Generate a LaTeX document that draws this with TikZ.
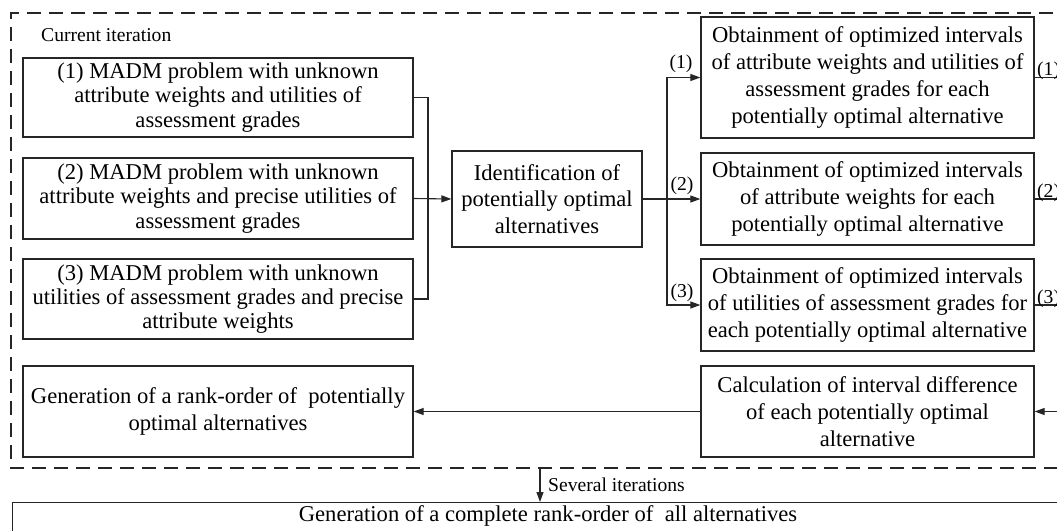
\documentclass[tikz,border=0pt]{standalone}
\usepackage{fontspec}
\setmainfont{Liberation Serif}
\usetikzlibrary{arrows.meta}
\tikzset{
  box/.style={draw=black!85, line width=1.3pt, rectangle, inner sep=0pt, align=center,
    font=\fontsize{22.6}{26.8}\selectfont},
  lbox/.style={box, font=\fontsize{22.6}{24.2}\selectfont},
  conn/.style={draw=black!85, line width=1.1pt},
  arr/.style={conn, -{Triangle[length=10pt,width=7pt]}},
  lab/.style={inner sep=0pt, font=\fontsize{19.6}{22}\selectfont},
  dashbox/.style={draw=black!85, line width=1.5pt, dash pattern=on 14pt off 8pt},
}
\begin{document}
\begin{tikzpicture}[x=1pt,y=-1pt]
\fill[white] (0,0) rectangle (1057,530);
\useasboundingbox (0,0) rectangle (1057,530);
\clip (0,0) rectangle (1057,530);
% dashed frame of the current iteration
\draw[dashbox] (1075,13) -- (11,13) -- (11,468) -- (1075,468);
\node[lab, anchor=west] (cur) at (41,35) {Current iteration};
% left boxes
\node[lbox, minimum width=390pt, minimum height=79pt] (b1) at (218,97.5)
  {(1) MADM problem with unknown\\attribute weights and utilities of\\assessment grades};
\node[lbox, minimum width=390pt, minimum height=81pt] (b2) at (218,198.5)
  {(2) MADM problem with unknown\\attribute weights and precise utilities of\\assessment grades};
\node[lbox, minimum width=390pt, minimum height=80pt] (b3) at (218,299)
  {(3) MADM problem with unknown\\utilities of assessment grades and precise\\attribute weights};
\node[box, minimum width=390pt, minimum height=91pt] (gen) at (218,411.5)
  {Generation of a rank-order of\ \ potentially\\optimal alternatives};
% identification
\node[box, minimum width=190pt, minimum height=96pt] (id) at (547,199)
  {Identification of\\potentially optimal\\alternatives};
% right boxes
\node[box, minimum width=333pt, minimum height=121pt] (r1) at (867.5,77.5)
  {Obtainment of optimized intervals\\of attribute weights and utilities of\\assessment grades for each\\potentially optimal alternative};
\node[box, minimum width=333pt, minimum height=92pt] (r2) at (867.5,199)
  {Obtainment of optimized intervals\\of attribute weights for each\\potentially optimal alternative};
\node[box, minimum width=333pt, minimum height=92pt] (r3) at (867.5,305)
  {Obtainment of optimized intervals\\of utilities of assessment grades for\\each potentially optimal alternative};
\node[box, minimum width=333pt, minimum height=91pt] (calc) at (867.5,411.5)
  {Calculation of interval difference\\of each potentially optimal\\alternative};
% final box
\node[box, anchor=north west, minimum width=1063pt, minimum height=50pt] (fin) at (12,502) {};
\node[inner sep=0pt, font=\fontsize{22.6}{26.8}\selectfont] (fintext) at (548,516)
  {Generation of a complete rank-order of\ \ all alternatives};
% connectors on the left
\coordinate (jl) at (428,198.5);
\draw[conn] (b1.east) -| (jl) |- (b3.east);
\draw[arr] (b2.east) -- (id.west);
% branches to the right boxes
\coordinate (jr) at (667,199);
\draw[conn] (id.east) -- (jr);
\draw[arr] (jr) |- (r1.west);
\draw[arr] (jr) -- (r2.west);
\draw[arr] (jr) |- (r3.west);
\node[lab] (l1) at (681,64) {(1)};
\node[lab] (l2) at (682,186) {(2)};
\node[lab] (l3) at (682,293) {(3)};
% loop back on the right edge
\coordinate (rt) at (1065,0);
\draw[conn] (r1.east) -- (r1.east -| rt);
\draw[conn] (r2.east) -- (r2.east -| rt);
\draw[conn] (r3.east) -- (r3.east -| rt);
\draw[arr] (r1.east -| rt) |- (calc.east);
\node[lab, anchor=west] (rl1) at (1037,71) {(1)};
\node[lab, anchor=west] (rl2) at (1037,193) {(2)};
\node[lab, anchor=west] (rl3) at (1037,299) {(3)};
\draw[arr] (calc.west) -- (gen.east);
% several iterations
\coordinate (si) at (540,468);
\draw[arr] (si) -- (si |- fin.north);
\node[lab, anchor=west] (sit) at (548,485) {Several iterations};
\end{tikzpicture}
\end{document}
